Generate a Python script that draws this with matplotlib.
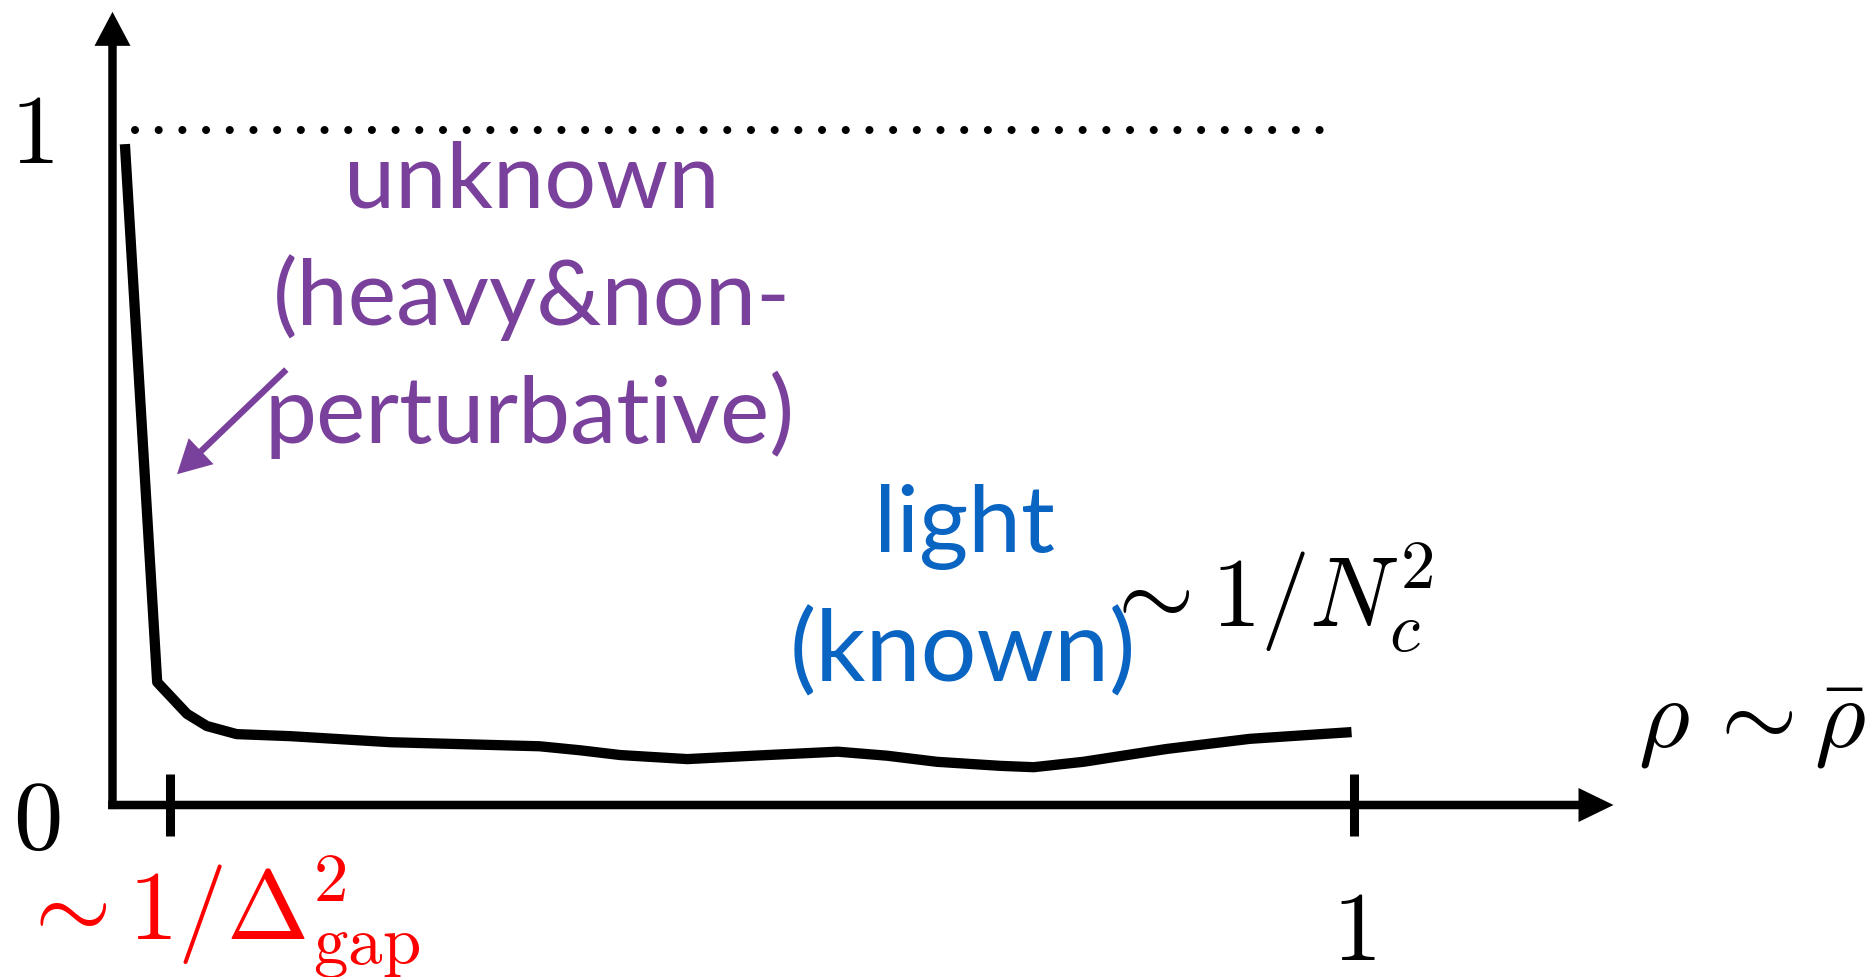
import matplotlib
matplotlib.use('Agg')
import matplotlib.pyplot as plt

plt.rcParams['mathtext.fontset'] = 'cm'

# sketch of the curve (rho on x, height on y)
rho = [0.010, 0.036, 0.060, 0.076, 0.100, 0.143, 0.224, 0.304, 0.344, 0.377,
       0.409, 0.463, 0.516, 0.584, 0.624, 0.664, 0.715, 0.742, 0.782, 0.849,
       0.916, 0.998]
val = [0.979, 0.182, 0.135, 0.117, 0.105, 0.102, 0.093, 0.089, 0.087, 0.081,
       0.074, 0.068, 0.073, 0.079, 0.073, 0.064, 0.058, 0.056, 0.064, 0.083,
       0.098, 0.108]
gap_tick = 0.046
xticks = [gap_tick, 1.0]
unit_level = 1.0
dot_range = [0.018, 0.976]

purple = '#79409C'
blue = '#0A64C2'

fig = plt.figure(figsize=(18.73, 9.78), dpi=100)
ax = fig.add_axes([0, 0, 1, 1])
ax.set_xlim(-0.0906, 1.418)
ax.set_ylim(-0.2548, 1.194)
ax.axis('off')

# axes as arrows
ax.arrow(-0.0035, 0, 1.2125, 0, width=0.0126, head_width=0.0504, head_length=0.0282,
         length_includes_head=True, fc='k', ec='none', lw=0)
ax.arrow(0, -0.006, 0, 1.181, width=0.0068, head_width=0.029, head_length=0.0504,
         length_includes_head=True, fc='k', ec='none', lw=0)
ax.vlines(xticks, -0.046, 0.046, colors='k', lw=6.5)

# dotted line at 1
ax.plot(dot_range, [unit_level, unit_level], color='k', lw=5.8,
        linestyle=(0, (0.001, 2.94)), dash_capstyle='round')

ax.plot(rho, val, color='k', lw=7.4, solid_capstyle='butt', solid_joinstyle='round')

# axis labels
ax.text(-0.0648, 0.953, r'$1$', fontsize=71, ha='center', va='baseline')
ax.text(-0.0608, -0.0237, r'$0$', fontsize=71, ha='center', va='center')
ax.text(1.0, -0.228, r'$1$', fontsize=71, ha='center', va='baseline')
ax.text(-0.077, -0.1985, r'$\sim 1/\Delta^2_{\rm gap}$', fontsize=71, color='red',
        ha='left', va='baseline')
ax.text(0.795, 0.265, r'$\sim 1/N_c^2$', fontsize=71, ha='left', va='baseline')
ax.text(1.229, 0.086, r'$\rho\,\sim\bar\rho$', fontsize=71, ha='left', va='baseline')

# region labels
ax.text(0.338, 0.886, 'unknown', fontsize=66, family='Lato', color=purple,
        ha='center', va='baseline')
ax.text(0.338, 0.7126, '(heavy&non-', fontsize=66, family='Lato', color=purple,
        ha='center', va='baseline')
ax.text(0.336, 0.538, 'perturbative)', fontsize=67, family='Lato', color=purple,
        ha='center', va='baseline')
ax.annotate('', xy=(0.052, 0.490), xytext=(0.140, 0.645),
            arrowprops=dict(arrowstyle='simple,head_length=1.0,head_width=1.08,tail_width=0.19',
                            mutation_scale=24, fc=purple, ec='none', lw=0,
                            shrinkA=0, shrinkB=0))

ax.text(0.6866, 0.376, 'light', fontsize=68, family='Lato', color=blue,
        ha='center', va='baseline')
ax.text(0.685, 0.184, '(known)', fontsize=71, family='Lato', color=blue,
        ha='center', va='baseline')

fig.savefig('out.png', dpi=100)
